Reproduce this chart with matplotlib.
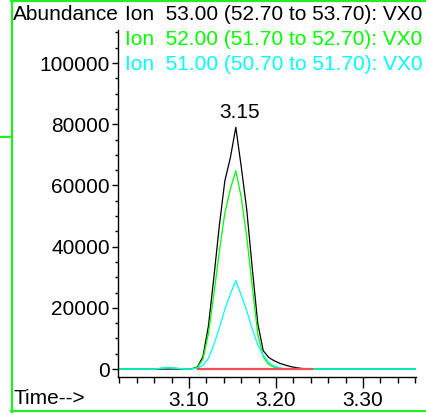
import matplotlib
matplotlib.use("Agg")
import matplotlib.pyplot as plt
from matplotlib.lines import Line2D
from matplotlib.ticker import MultipleLocator, FixedLocator

plt.rcParams['font.family'] = ['Liberation Sans', 'DejaVu Sans']

# ---- data ----
time = [3.0153, 3.0216, 3.0279, 3.0342, 3.0405, 3.0468, 3.0531, 3.0594, 3.0657, 3.0720,
        3.0783, 3.0846, 3.0909, 3.0972, 3.1035, 3.1098, 3.1161, 3.1224, 3.1287, 3.1350,
        3.1413, 3.1476, 3.1539, 3.1602, 3.1665, 3.1728, 3.1791, 3.1854, 3.1917, 3.1980,
        3.2043, 3.2106, 3.2169, 3.2232, 3.2295, 3.2358, 3.2421, 3.2484, 3.2547, 3.2610,
        3.2673, 3.2736, 3.2799, 3.2862, 3.2925, 3.2988, 3.3051, 3.3114, 3.3177, 3.3240,
        3.3303, 3.3366, 3.3429, 3.3492, 3.3555, 3.3618]

ion53 = [0, 0, 0, 0, 0, 0, 0, 0, 0, 0,
         0, 0, 0, 0, 100, 700, 4000, 14000, 30000, 47000,
         61500, 69000, 79000, 66000, 52000, 33000, 15000, 6000, 3800, 2700,
         1900, 1300, 800, 450, 200, 50, 0, 0, 0, 0,
         0, 0, 0, 0, 0, 0, 0, 0, 0, 0,
         0, 0, 0, 0, 0, 0]

ion52 = [0, 0, 0, 0, 0, 0, 0, 0, 200, 400,
         450, 300, 100, 0, 80, 550, 3200, 11500, 24500, 38500,
         51000, 58800, 64800, 56000, 43000, 27000, 11500, 4000, 1500, 600,
         200, 50, 0, 0, 0, 0, 0, 0, 0, 0,
         0, 0, 0, 0, 0, 0, 0, 0, 0, 0,
         0, 0, 0, 0, 0, 0]

ion51 = [0, 0, 0, 0, 0, 0, 0, 0, 150, 350,
         400, 250, 100, 0, 0, 300, 1200, 3500, 8000, 13500,
         19500, 24500, 28900, 24000, 19000, 13000, 8000, 4500, 2200, 1000,
         400, 100, 0, 0, 0, 0, 0, 0, 0, 0,
         0, 0, 0, 0, 0, 0, 0, 0, 0, 0,
         0, 0, 0, 0, 0, 0]

baseline_t = [3.111, 3.242]
baseline_v = [0, 0]

peak_time = 3.1539
peak_value = 79000
peak_label = "3.15"

legend_lines = ["Ion  53.00 (52.70 to 53.70): VX0",
                "Ion  52.00 (51.70 to 52.70): VX0",
                "Ion  51.00 (50.70 to 51.70): VX0"]
legend_colors = ["black", "#00ff00", "#00ffff"]

xticks_major = [3.10, 3.20, 3.30]
xtick_labels = ["3.10", "3.20", "3.30"]
yticks_major = [0, 20000, 40000, 60000, 80000, 100000]

# ---- figure ----
W, H = 426, 413
fig = plt.figure(figsize=(W / 100, H / 100), dpi=100)
ax = fig.add_axes([118 / W, 1 - 377 / H, (416 - 118) / W, (377 - 30) / H])

ax.plot(time, ion53, color="black", lw=0.9)
ax.plot(time, ion52, color="#00ff00", lw=0.9)
ax.plot(time, ion51, color="#00ffff", lw=0.9)
ax.plot(baseline_t, baseline_v, color="#f05050", lw=1.6)

ax.set_xlim(3.0185, 3.361)
ax.set_ylim(-2600, 110800)

for s in ["top", "right"]:
    ax.spines[s].set_visible(False)
ax.spines["left"].set_linewidth(1.0)
ax.spines["bottom"].set_linewidth(1.0)

fs = 15
ax.xaxis.set_major_locator(FixedLocator(xticks_major))
ax.set_xticklabels(xtick_labels, fontsize=fs)
ax.xaxis.set_minor_locator(MultipleLocator(0.02))
ax.yaxis.set_major_locator(FixedLocator(yticks_major))
ax.set_yticklabels([str(v) for v in yticks_major], fontsize=fs)
ax.yaxis.set_minor_locator(MultipleLocator(5000))
ax.tick_params(axis="x", which="major", direction="out", length=8, width=1, pad=2)
ax.tick_params(axis="x", which="minor", direction="out", length=4, width=1)
ax.tick_params(axis="y", which="major", direction="out", length=4, width=1, pad=2)
ax.tick_params(axis="y", which="minor", direction="out", length=2.5, width=1)

ax.annotate(peak_label, (peak_time, peak_value), xytext=(3, 4),
            textcoords="offset points", ha="center", va="bottom", fontsize=fs)

# texts
def px(x, y):
    return x / W, 1 - y / H

fig.text(*px(13, 15), "Abundance", fontsize=fs, va="center", ha="left")
fig.text(*px(13, 399), "Time-->", fontsize=fs, va="center", ha="left")
for i, (t, c) in enumerate(zip(legend_lines, legend_colors)):
    fig.text(*px(125, 15 + i * 24.5), t, color=c, fontsize=fs, va="center", ha="left")

# green frame
g = "#22ee22"
fig.add_artist(Line2D([11.5 / W, 11.5 / W], [0, 1], color=g, lw=1.6, transform=fig.transFigure))
fig.add_artist(Line2D([11 / W, 1], [1 - 1 / H, 1 - 1 / H], color=g, lw=1.6, transform=fig.transFigure))
fig.add_artist(Line2D([11 / W, 1], [1 - 410.5 / H, 1 - 410.5 / H], color=g, lw=1.6, transform=fig.transFigure))
fig.add_artist(Line2D([0, 11 / W], [1 - 137 / H, 1 - 137 / H], color=g, lw=1.6, transform=fig.transFigure))

fig.savefig("out.png", dpi=100)
